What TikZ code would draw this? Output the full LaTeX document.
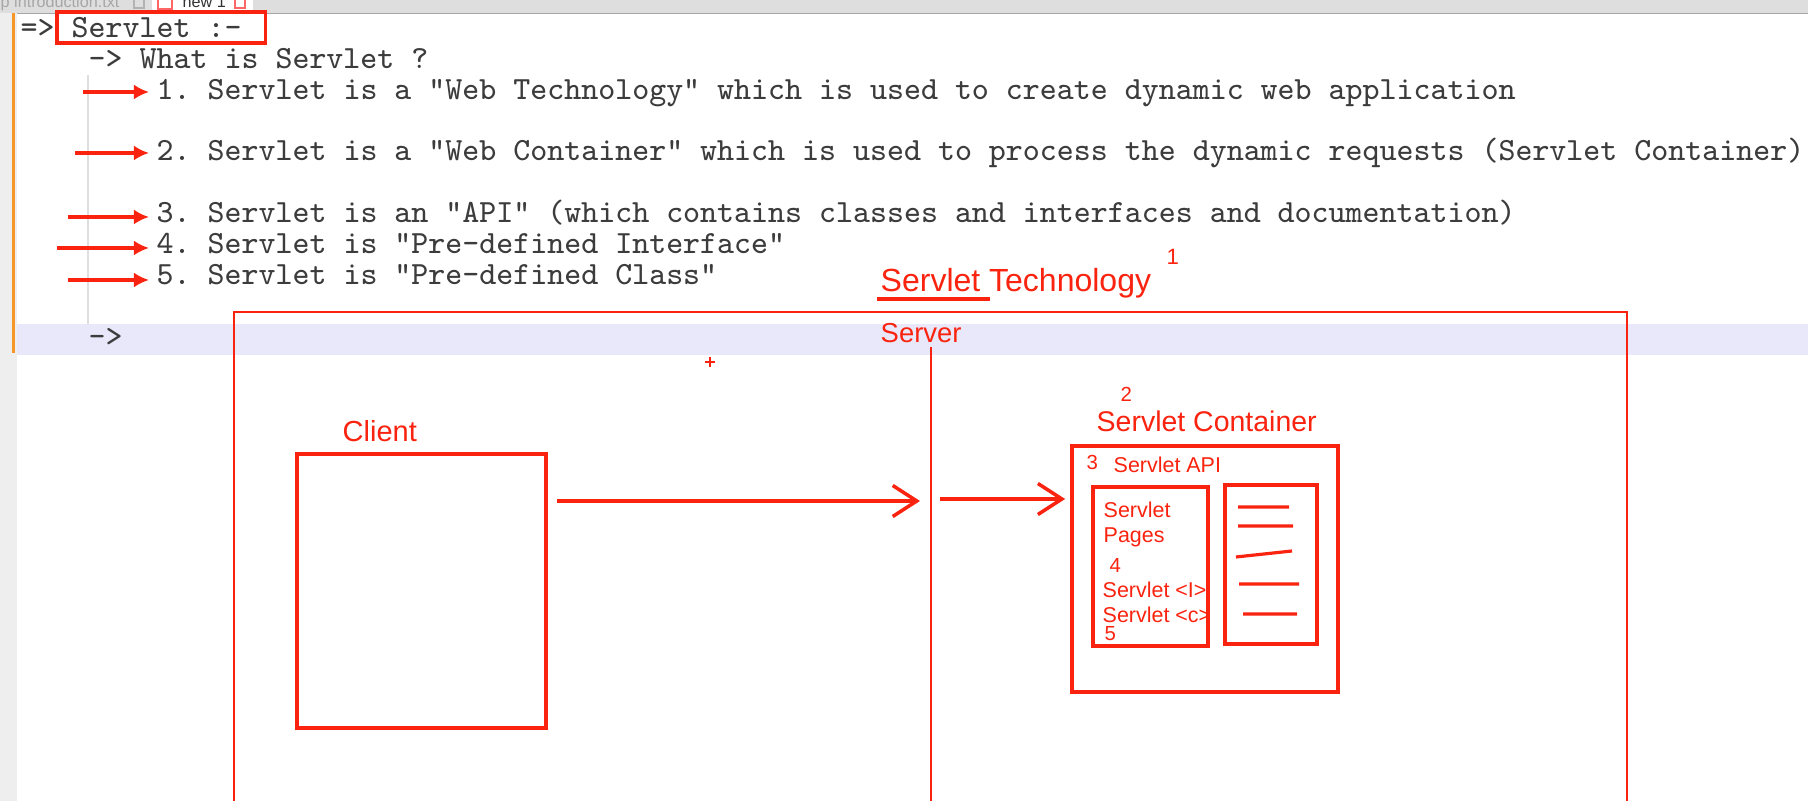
\documentclass[tikz,border=0pt]{standalone}
\usepackage{fontspec}
\setmainfont{Liberation Sans}
\usetikzlibrary{arrows.meta,calc,positioning}
\definecolor{skred}{RGB}{250,35,15}
\definecolor{codegray}{RGB}{60,60,60}
\definecolor{curline}{RGB}{232,232,250}
\definecolor{margingray}{RGB}{238,238,238}
\definecolor{barorange}{RGB}{245,150,40}
\definecolor{tabgray}{RGB}{222,222,222}
\begin{document}
\begin{tikzpicture}[x=0.01cm, y=-0.01cm,
  code/.style={anchor=base west, inner sep=0pt, text=codegray, font=\ttfamily\frenchspacing\fontsize{9.2pt}{10pt}\selectfont},
  sk/.style={draw=skred, line width=1pt},
  sktxt/.style={anchor=base west, inner sep=0pt, text=skred, font=\fontsize{#1}{#1}\selectfont},
  skbox/.style={draw=skred, line width=1pt, inner sep=0pt},
  bullet/.style={draw=skred, line width=1pt, -{Latex[length=0.15cm,width=0.15cm]}},
  flow/.style={draw=skred, line width=1pt, -{Straight Barb[length=0.24cm,width=0.31cm,line width=1pt]}}]
\useasboundingbox (0,0) rectangle (1808,801);
\fill[white] (0,0) rectangle (1808,801);
% editor frame
\fill[tabgray] (0,0) rectangle (1808,13);
\fill[white] (152,0) rectangle (253,13);
\draw[gray!70, line width=0.3pt] (0,13.5) -- (1808,13.5);
\begin{scope}
\clip (0,0) rectangle (1808,13);
\node[anchor=base west, inner sep=0pt, text=gray!70, font=\fontsize{4.6pt}{5pt}\selectfont] (tabold) at (0,8) {p introduction.txt};
\draw[gray!60, line width=0.3pt] (134,-1) rectangle (144,8);
\draw[red!60, line width=0.4pt] (158,-1) rectangle (172,9);
\node[anchor=base west, inner sep=0pt, text=black!80, font=\fontsize{4.6pt}{5pt}\selectfont] (tabnew) at (182,8) {new 1};
\draw[red!60, line width=0.4pt] (235,-1) rectangle (245,8);
\end{scope}
\fill[margingray] (0,13.5) rectangle (17,801);
\fill[barorange] (12,13.5) rectangle (15,353);
\fill[curline] (17,324) rectangle (1808,355);
\draw[gray!25, line width=0.3pt] (88,75) -- (88,324);
% text lines
\node[code] (arr0) at (20,38) {=>};
\node[code] (hdr) at (71,38) {Servlet :-};
\draw[sk] ($(hdr.west)+(-14,-16)$) rectangle ($(hdr.east)+(23,15)$);
\node[code] (what) at (88,69) {-> What is Servlet ?};
\node[code] (i1) at (156,100) {1. Servlet is a "Web Technology" which is used to create dynamic web application};
\node[code] (i2) at (156,161) {2. Servlet is a "Web Container" which is used to process the dynamic requests (Servlet Container)};
\node[code] (i3) at (156,223) {3. Servlet is an "API" (which contains classes and interfaces and documentation)};
\node[code] (i4) at (156,254) {4. Servlet is "Pre-defined Interface"};
\node[code] (i5) at (156,285) {5. Servlet is "Pre-defined Class"};
\node[code] (cur) at (88,347) {->};
\coordinate (b1) at (83,92);
\coordinate (b2) at (75,153);
\coordinate (b3) at (68,217);
\coordinate (b4) at (57,248);
\coordinate (b5) at (68,280);
\foreach \i in {1,...,5}
  \draw[bullet, shorten >=0.07cm] (b\i) -- (b\i -| i\i.west);
% sketch
\node[sktxt=9.1pt] (tech) at (880,292) {Servlet Technology};
\node[sktxt=6.3pt] (n1) at (1166,265) {1};
\draw[sk] (877,299) -- (990,299);
\draw[sk, line width=0.8pt] (234,801) -- (234,312) -- (1627,312) -- (1627,801);
\node[sktxt=7.8pt] (srv) at (880,343) {Server};
\coordinate (divtop) at (931,347);
\coordinate (divbot) at (931,801);
\draw[sk, line width=0.6pt] (divtop) -- (divbot);
\draw[skred, line width=0.4pt] (705,362) -- (715,362) (710,357) -- (710,367);
\node[sktxt=8.25pt] (cltlbl) at (342,442) {Client};
\node[skbox, minimum width=2.49cm, minimum height=2.74cm] (client) at (421.5,591) {};
\coordinate (req) at (557,501);
\draw[flow, shorten >=0.11cm] (req) -- (req -| divtop);
\node[sktxt=5.8pt] (n2) at (1120,402) {2};
\node[sktxt=8.1pt] (contlbl) at (1096,432) {Servlet Container};
\node[skbox, minimum width=2.66cm, minimum height=2.46cm] (cont) at (1205,569) {};
\coordinate (fwd) at (940,499);
\draw[flow, shorten >=0.05cm] (fwd) -- (fwd -| cont.west);
\node[sktxt=5.8pt] (n3) at (1086,470) {3};
\node[sktxt=6.1pt] (apilbl) at (1113,473) {Servlet API};
\node[skbox, minimum width=1.15cm, minimum height=1.59cm] (pages) at (1150.5,566.5) {};
\node[skbox, minimum width=0.92cm, minimum height=1.59cm] (docs) at (1271,564.5) {};
\node[sktxt=6.1pt] (p1) at (1103,518) {Servlet};
\node[sktxt=6.1pt] (p2) at (1103,543) {Pages};
\node[sktxt=5.8pt] (n4) at (1109,573) {4};
\node[sktxt=6.1pt] (p3) at (1102,598) {Servlet <I>};
\node[sktxt=6.1pt] (p4) at (1102,623) {Servlet <c>};
\node[sktxt=5.8pt] (n5) at (1104,641) {5};
\draw[sk, line width=0.9pt] (1238,507) -- (1289,507) (1238,526) -- (1293,526)
  (1236,557) -- (1292,551) (1239,584) -- (1299,584) (1243,614) -- (1297,614);
\end{tikzpicture}
\end{document}
